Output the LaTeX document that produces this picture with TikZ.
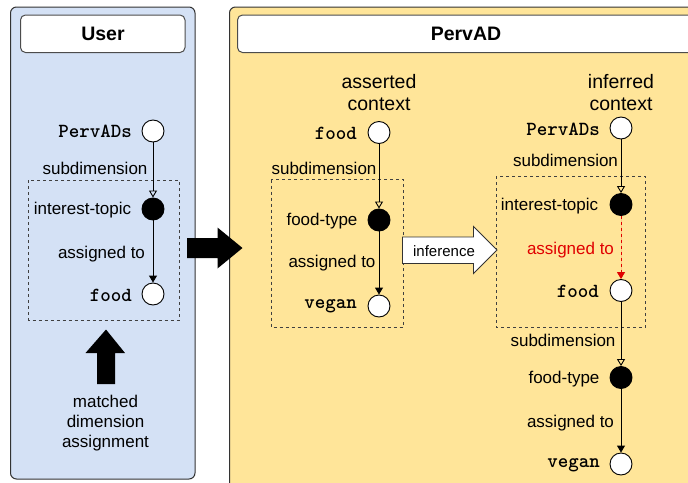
\documentclass[tikz,border=0pt]{standalone}
\usepackage{fontspec}
\setmainfont{Liberation Sans}
\usetikzlibrary{arrows.meta}
\definecolor{userblue}{HTML}{D4E1F5}
\definecolor{advyellow}{HTML}{FFE599}
\definecolor{infred}{HTML}{E00000}
\tikzset{
  dim/.style={draw, circle, fill=white, minimum size=22pt, inner sep=0pt, line width=0.9pt},
  topic/.style={dim, fill=black},
  val/.style={font=\fontsize{20}{22}\selectfont\ttfamily\bfseries, inner sep=0pt, anchor=east},
  lbl/.style={font=\fontsize{17}{20}\selectfont, inner sep=0pt},
  ctx/.style={font=\fontsize{19.5}{21.5}\selectfont, align=center, inner sep=0pt},
  sub/.style={draw, line width=0.9pt, -{Triangle[open,length=7pt,width=8pt]}},
  assign/.style={draw, line width=0.9pt, -{Triangle[length=7pt,width=8pt]}},
  scopebox/.style={draw=black!75, dashed, line width=0.9pt},
  panel/.style={draw=black!80, rounded corners=6pt, line width=1pt},
  title/.style={draw=black!70, fill=white, rounded corners=5pt, line width=1pt},
}
\begin{document}
\begin{tikzpicture}[x=1pt, y=-1pt]
\useasboundingbox (0,0) rectangle (688,482);
\clip (0,0) rectangle (688,482);

% panels
\path[panel, fill=userblue] (10.5,7) rectangle (195,479);
\path[panel, fill=advyellow] (229.5,7) rectangle (720,495);
\path[title] (20.5,15) rectangle (185,52.5);
\path[title] (237.5,15) rectangle (700,52.5);
\node[font=\fontsize{19.5}{22}\selectfont\bfseries] (usertitle) at (103,33.5) {User};
\node[font=\fontsize{19.5}{22}\selectfont\bfseries] (advtitle) at (466,33.5) {PervAD};

% user side
\path[scopebox] (28.5,180) rectangle (179,320);
\node[dim] (u1) at (153,131) {};
\node[topic] (u2) at (153,209) {};
\node[dim] (u3) at (153,294) {};
\node[val] (u1l) at (132,131) {PervADs};
\node[lbl] (u2l) at (82.5,210) {interest-topic};
\node[val] (u3l) at (132,295) {food};
\node[lbl] (us) at (95,168) {subdimension};
\node[lbl] (ua) at (101.5,254) {assigned to};
\path[sub] (u1) -- (u2);
\path[assign] (u2) -- (u3);

\path[fill=black] (106,329.5) -- (125,353) -- (115,353) -- (115,384) -- (97,384) -- (97,353) -- (85.5,353) -- cycle;
\node[lbl, align=center] (match) at (105.5,423) {matched\\dimension\\assignment};

% user -> PervAD
\path[fill=black] (187,238) -- (217.5,238) -- (217.5,227.5) -- (242.5,248) -- (217.5,268.5) -- (217.5,258) -- (187,258) -- cycle;

% asserted context
\node[ctx] (actx) at (379,92.5) {asserted\\context};
\path[scopebox] (271,179.5) rectangle (403.5,327);
\node[dim] (a1) at (379,132.5) {};
\node[topic] (a2) at (379,220) {};
\node[dim] (a3) at (379,306) {};
\node[val] (a1l) at (357,133) {food};
\node[lbl] (a2l) at (322,221) {food-type};
\node[val] (a3l) at (357,306) {vegan};
\node[lbl] (as) at (324,168.5) {subdimension};
\node[lbl] (aa) at (332,263) {assigned to};
\path[sub] (a1) -- (a2);
\path[assign] (a2) -- (a3);

% inference
\path[draw=black!80, fill=white, line width=0.9pt] (402.5,237) -- (473.5,237) -- (473.5,226.5) -- (497,250) -- (473.5,273.5) -- (473.5,263.5) -- (402.5,263.5) -- cycle;
\node[font=\fontsize{15}{18}\selectfont, inner sep=0pt] (infer) at (444,251) {inference};

% inferred context
\node[ctx] (ictx) at (621,92.5) {inferred\\context};
\path[scopebox] (496,176) rectangle (645.5,327);
\node[dim] (i1) at (621,128) {};
\node[topic] (i2) at (621,204.5) {};
\node[dim] (i3) at (621,290.5) {};
\node[topic] (i4) at (621,377.5) {};
\node[dim] (i5) at (621,464) {};
\node[val] (i1l) at (600,129) {PervADs};
\node[lbl] (i2l) at (549.5,206) {interest-topic};
\node[val] (i3l) at (599,291.5) {food};
\node[lbl] (i4l) at (564,379) {food-type};
\node[val] (i5l) at (600,465) {vegan};
\node[lbl] (is1) at (565.5,160.5) {subdimension};
\node[lbl, text=infred] (ia1) at (570.5,250) {assigned to};
\node[lbl] (is2) at (563,340) {subdimension};
\node[lbl] (ia2) at (570.5,423) {assigned to};
\path[sub] (i1) -- (i2);
\path[assign, draw=infred, fill=infred, dashed] (i2) -- (i3);
\path[sub] (i3) -- (i4);
\path[assign] (i4) -- (i5);
\end{tikzpicture}
\end{document}
